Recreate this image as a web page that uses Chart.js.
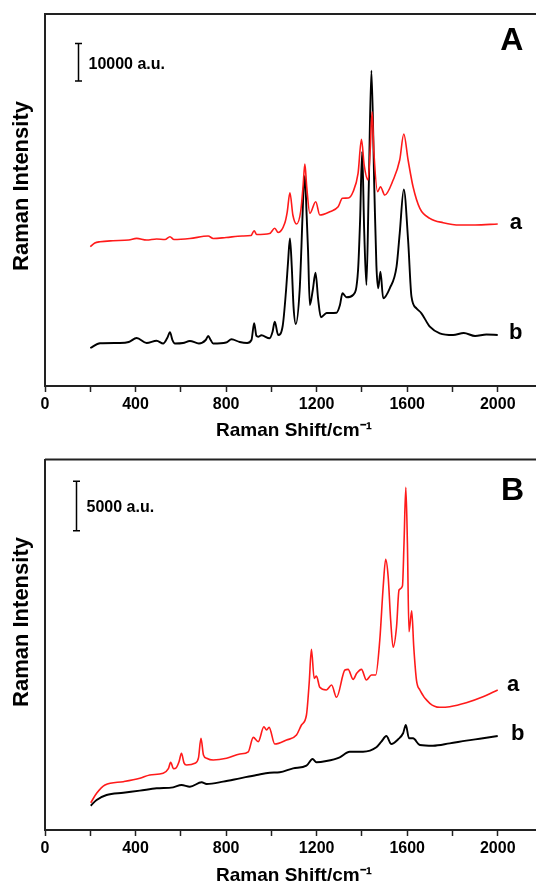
<!DOCTYPE html>
<html>
<head>
<meta charset="utf-8">
<script src="https://cdn.jsdelivr.net/npm/chart.js@4.4.1/dist/chart.umd.min.js"></script>
<style>
  html, body { margin: 0; padding: 0; background: #fff; overflow: hidden; width: 536px; height: 885px; }
  .panel { position: absolute; left: 0; width: 560px; }
  #panelA { top: 0; height: 442px; }
  #panelB { top: 442px; height: 443px; }
</style>
</head>
<body>
<div class="panel" id="panelA"><canvas id="chartA"></canvas></div>
<div class="panel" id="panelB"><canvas id="chartB"></canvas></div>
<script>
// Panel A, spectrum a (red)
const shiftA_a = [200, 220, 243, 300, 370, 405, 449, 493, 530, 552, 570, 640, 721, 743, 800, 871, 910, 924, 935, 992,
  1015, 1030, 1059, 1070, 1082, 1095, 1111, 1130, 1140, 1148, 1156, 1170, 1196, 1214, 1258, 1295, 1314, 1340, 1361, 1383,
  1398, 1410, 1427, 1437, 1445, 1453, 1469, 1482, 1501, 1538, 1567, 1585, 1604, 1626, 1656, 1700, 1759, 1833, 1900, 2000];
const intA_a = [36960, 37940, 38280, 38550, 38730, 39180, 38730, 39000, 38860, 39610, 38860, 39130, 39800, 39130, 39400, 39800, 39930, 41200, 40190, 40460,
  41840, 40720, 43160, 46160, 51280, 45370, 42980, 46500, 53000, 58900, 53000, 45820, 48890, 45370, 46240, 47570, 49800, 49880, 51550, 56430,
  65450, 58630, 54650, 63000, 72770, 62000, 51550, 52870, 50670, 54650, 59960, 66860, 59960, 52870, 47140, 44490, 43320, 42710, 42710, 42980];

// Panel A, spectrum b (black)
const shiftA_b = [200, 243, 331, 370, 405, 449, 493, 522, 540, 552, 563, 574, 610, 640, 680, 710, 721, 732, 743, 800,
  824, 860, 893, 912, 924, 934, 942, 956, 992, 1005, 1015, 1030, 1050, 1065, 1074, 1082, 1090, 1098, 1108, 1125,
  1133, 1140, 1148, 1156, 1162, 1170, 1183, 1195, 1207, 1219, 1244, 1288, 1303, 1314, 1332, 1361, 1383, 1392, 1401, 1410,
  1420, 1430, 1442, 1455, 1464, 1472, 1482, 1494, 1523, 1553, 1567, 1585, 1604, 1619, 1641, 1663, 1700, 1744, 1803, 1850,
  1900, 1950, 2000];
const intA_b = [10080, 11330, 11410, 11670, 12730, 11410, 12020, 11280, 12730, 14250, 12200, 11280, 11410, 11940, 11280, 12200, 13270, 12200, 11280, 11540,
  12390, 11670, 11410, 12200, 16630, 13270, 13080, 13450, 12650, 14330, 17060, 13530, 15920, 25470, 33160, 39180, 31840, 21000, 16450, 25470,
  37140, 49080, 55710, 45100, 36080, 21490, 25470, 30060, 22820, 18230, 19370, 19450, 21490, 24590, 23530, 24140, 30770, 44040, 62160, 41390,
  26800, 52000, 83650, 52000, 32000, 25920, 30320, 23270, 25920, 31650, 40510, 52180, 38730, 23690, 20610, 19290, 15730, 13980, 13530, 14060,
  13270, 13660, 13530];

// Panel B, spectrum a (red)
const shiftB_a = [202, 228, 265, 346, 419, 463, 522, 545, 555, 568, 580, 592, 603, 614, 625, 662, 678, 689, 700, 714,
  743, 802, 861, 898, 920, 942, 967, 979, 990, 1015, 1067, 1111, 1133, 1155, 1167, 1177, 1189, 1199, 1214, 1243,
  1266, 1288, 1325, 1339, 1361, 1377, 1398, 1420, 1442, 1461, 1479, 1494, 1505, 1516, 1527, 1538, 1553, 1564, 1579, 1586,
  1594, 1601, 1608, 1620, 1629, 1641, 1656, 1700, 1744, 1788, 1861, 1935, 2000];
const intB_a = [2760, 3710, 4550, 4890, 5230, 5570, 5740, 6200, 6850, 6200, 6300, 6900, 7760, 6800, 6580, 6750, 7300, 9280, 7600, 7260,
  7080, 7260, 7690, 7920, 9380, 8940, 10450, 10120, 10390, 8700, 9110, 9610, 10630, 11640, 14850, 18290, 15350, 15580, 14440, 14170,
  14670, 13430, 16190, 16260, 15250, 15860, 16260, 15180, 15690, 15690, 19230, 24620, 27390, 25630, 21250, 18490, 20570, 24290, 24690, 29010,
  34680, 29010, 20070, 22190, 18550, 15180, 14170, 12820, 12420, 12480, 12880, 13490, 14170];

// Panel B, spectrum b (black)
const shiftB_b = [202, 228, 272, 346, 419, 493, 566, 603, 640, 692, 714, 787, 861, 935, 993, 1037, 1096, 1155, 1182, 1199,
  1243, 1302, 1346, 1405, 1464, 1486, 1508, 1530, 1560, 1582, 1594, 1608, 1626, 1656, 1714, 1788, 1861, 1935, 2000];
const intB_b = [2460, 3040, 3540, 3770, 3980, 4220, 4320, 4550, 4380, 4830, 4660, 4890, 5230, 5570, 5800, 5840, 6240, 6510, 7190, 6850,
  6980, 7360, 7920, 7920, 8370, 8940, 9510, 8700, 9180, 9790, 10630, 9280, 9280, 8600, 8530, 8770, 9040, 9280, 9510];

const FONT = '"Liberation Sans", Arial, sans-serif';
const zip = (xs, ys) => xs.map((x, i) => ({ x: x, y: ys[i] }));

// frame, y title, scale bar and curve / panel letters
const decor = {
  id: 'decor',
  afterDraw(chart, args, o) {
    const { ctx, chartArea: a, scales: { x, y } } = chart;
    ctx.save();
    ctx.strokeStyle = '#222';
    ctx.lineWidth = 2;
    ctx.beginPath();
    ctx.moveTo(a.left, a.top);
    ctx.lineTo(a.right, a.top);
    ctx.lineTo(a.right, a.bottom);
    ctx.stroke();

    // y axis title, sits a little above the middle of the plot
    ctx.fillStyle = '#000';
    ctx.textAlign = 'center';
    ctx.textBaseline = 'middle';
    ctx.font = 'bold 22px ' + FONT;
    ctx.save();
    ctx.translate(22, o.titleY);
    ctx.rotate(-Math.PI / 2);
    ctx.fillText('Raman Intensity', 0, 0);
    ctx.restore();

    const bx = Math.round(x.getPixelForValue(o.bar.x)) + 0.5;
    const y1 = y.getPixelForValue(o.bar.from);
    const y2 = y.getPixelForValue(o.bar.from + o.bar.size);
    ctx.strokeStyle = '#000';
    ctx.lineWidth = 1.5;
    ctx.beginPath();
    ctx.moveTo(bx, y1); ctx.lineTo(bx, y2);
    ctx.moveTo(bx - 3.5, y1); ctx.lineTo(bx + 3.5, y1);
    ctx.moveTo(bx - 3.5, y2); ctx.lineTo(bx + 3.5, y2);
    ctx.stroke();

    ctx.textAlign = 'left';
    ctx.font = 'bold 16px ' + FONT;
    ctx.fillText(o.bar.text, bx + 10, (y1 + y2) / 2 + 2);

    ctx.textAlign = 'center';
    o.labels.forEach(l => {
      ctx.font = 'bold ' + l.size + 'px ' + FONT;
      ctx.fillText(l.text, x.getPixelForValue(l.x), y.getPixelForValue(l.y));
    });
    ctx.restore();
  }
};

function makePanel(id, cfg) {
  new Chart(document.getElementById(id), {
    type: 'line',
    data: {
      datasets: [
        { label: 'a', data: zip(cfg.sa, cfg.ia), borderColor: '#ff1a1a', borderWidth: 1.6 },
        { label: 'b', data: zip(cfg.sb, cfg.ib), borderColor: '#000000', borderWidth: 1.9 }
      ]
    },
    options: {
      responsive: true,
      maintainAspectRatio: false,
      animation: false,
      devicePixelRatio: 1,
      layout: { padding: { top: cfg.top, right: 17, left: 0, bottom: 0 } },
      elements: {
        line: { cubicInterpolationMode: 'monotone', fill: false },
        point: { radius: 0 }
      },
      scales: {
        x: {
          type: 'linear', min: 0, max: 2200,
          afterFit: s => { s.height = cfg.xh; },
          ticks: {
            stepSize: 200, autoSkip: false, maxRotation: 0, padding: 3, color: '#000',
            font: { family: FONT, size: 16, weight: 'bold' },
            callback: v => (v % 400 === 0 ? v : '')
          },
          grid: { drawOnChartArea: false, tickLength: 6, tickColor: '#222', tickWidth: 1.5 },
          border: { color: '#222', width: 2 },
          title: {
            display: true, text: 'Raman Shift/cm⁻¹', color: '#000',
            font: { family: FONT, size: 19, weight: 'bold', lineHeight: 1 },
            padding: { top: 0, bottom: cfg.tpad }
          }
        },
        y: {
          min: 0, max: cfg.ymax,
          afterFit: s => { s.width = 45; },
          ticks: { display: false },
          grid: { display: false },
          border: { color: '#222', width: 2 },
          title: { display: false }
        }
      },
      plugins: {
        legend: { display: false },
        tooltip: { enabled: false },
        decor: { bar: cfg.bar, labels: cfg.labels, titleY: cfg.titleY }
      }
    },
    plugins: [decor]
  });
}

makePanel('chartA', {
  sa: shiftA_a, ia: intA_a, sb: shiftA_b, ib: intA_b,
  top: 14, xh: 56, tpad: 2, ymax: 98700, titleY: 186,
  bar: { x: 146, from: 80900, size: 10000, text: '10000 a.u.' },
  labels: [
    { text: 'A', x: 2062, y: 91400, size: 32 },
    { text: 'a', x: 2080, y: 43200, size: 22 },
    { text: 'b', x: 2080, y: 14000, size: 22 }
  ]
});

makePanel('chartB', {
  sa: shiftB_a, ia: intB_a, sb: shiftB_b, ib: intB_b,
  top: 17.5, xh: 55, tpad: 0, ymax: 37500, titleY: 180,
  bar: { x: 137, from: 30290, size: 5000, text: '5000 a.u.' },
  labels: [
    { text: 'B', x: 2066, y: 34310, size: 32 },
    { text: 'a', x: 2068, y: 14700, size: 22 },
    { text: 'b', x: 2088, y: 9700, size: 22 }
  ]
});
</script>
</body>
</html>
